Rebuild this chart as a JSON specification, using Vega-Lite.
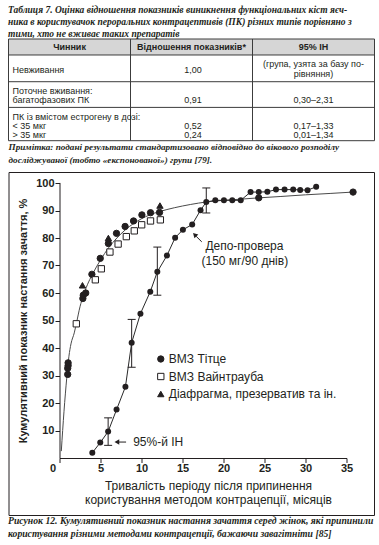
{
  "$schema": "https://vega.github.io/schema/vega-lite/v6.json",
  "padding": {"left": 7.5, "top": 4, "right": 5, "bottom": 5},
  "background": "white",
  "config": {"font": "Liberation Sans", "view": {"stroke": null}, "axis": {"grid": false}},
  "bounds": "flush",
  "spacing": 31,
  "resolve": {"scale": {"shape": "independent", "fill": "independent", "stroke": "independent"}, "legend": {"shape": "independent", "fill": "independent", "stroke": "independent"}},
  "title": {
    "text": ["Рисунок 12. Кумулятивний показник настання зачаття серед жінок, які припинили", "користування різними методами контрацепції, бажаючи завагітніти [85]"],
    "orient": "bottom", "anchor": "start", "frame": "bounds", "fontSize": 9.7, "fontStyle": "italic", "fontWeight": "bold",
    "lineHeight": 13, "offset": 0, "color": "#231f20", "font": "Liberation Sans Narrow"
  },
  "datasets": {
    "thead": [
      {"col": "c1", "ln": 8.06, "t": "Чинник"},
      {"col": "c2", "ln": 8.06, "t": "Відношення показників*"},
      {"col": "c3", "ln": 8.06, "t": "95% ІН"}
    ],
    "tc1": [
      {"col": "c1", "ln": 30.19, "t": "Невживання"},
      {"col": "c1", "ln": 50.84, "t": "Поточне вживання:"},
      {"col": "c1", "ln": 59.69, "t": "багатофазових ПК"},
      {"col": "c1", "ln": 76.4, "t": "ПК із вмістом естрогену в дозі:"},
      {"col": "c1", "ln": 85.25, "t": "< 35 мкг"},
      {"col": "c1", "ln": 94.1, "t": "> 35 мкг"}
    ],
    "tc2": [
      {"col": "c2", "ln": 30.19, "t": "1,00"},
      {"col": "c2", "ln": 59.69, "t": "0,91"},
      {"col": "c2", "ln": 85.25, "t": "0,52"},
      {"col": "c2", "ln": 94.1, "t": "0,24"}
    ],
    "tc3": [
      {"col": "c3", "ln": 24.29, "t": "(група, узята за базу по-"},
      {"col": "c3", "ln": 34.12, "t": "рівняння)"},
      {"col": "c3", "ln": 59.69, "t": "0,30–2,31"},
      {"col": "c3", "ln": 85.25, "t": "0,17–1,33"},
      {"col": "c3", "ln": 94.1, "t": "0,01–1,34"}
    ],
    "curve": [
      {"x": 0.22, "y": 2.5}, {"x": 0.55, "y": 17}, {"x": 0.88, "y": 29}, {"x": 1.15, "y": 37},
      {"x": 1.4, "y": 41.5}, {"x": 1.8, "y": 45.5}, {"x": 2.1, "y": 49.5}, {"x": 2.5, "y": 55},
      {"x": 2.9, "y": 59}, {"x": 3.4, "y": 63}, {"x": 4, "y": 66.7}, {"x": 5, "y": 72},
      {"x": 6, "y": 76.5}, {"x": 7, "y": 80}, {"x": 8, "y": 82.9}, {"x": 9, "y": 85.2},
      {"x": 10, "y": 87}, {"x": 11, "y": 88.4}, {"x": 12.2, "y": 89.6}, {"x": 14, "y": 91},
      {"x": 16, "y": 92.2}, {"x": 17.9, "y": 93.1}, {"x": 20, "y": 93.7}, {"x": 22, "y": 94.1},
      {"x": 24.3, "y": 94.6}, {"x": 27, "y": 95.1}, {"x": 30, "y": 95.7}, {"x": 33, "y": 96.2},
      {"x": 35.8, "y": 96.7}
    ],
    "depo": [
      {"x": 4.0, "y": 1.9}, {"x": 4.97, "y": 5.6}, {"x": 5.93, "y": 9.6}, {"x": 6.96, "y": 17.6},
      {"x": 8.04, "y": 25.9}, {"x": 8.8, "y": 41.9}, {"x": 9.87, "y": 52.5}, {"x": 11.07, "y": 60.5},
      {"x": 11.93, "y": 67.7}, {"x": 13.1, "y": 73.6}, {"x": 14.1, "y": 80.1}, {"x": 15.05, "y": 83.0},
      {"x": 16.18, "y": 84.9}, {"x": 17.2, "y": 90.1}, {"x": 17.9, "y": 93.1}, {"x": 19.0, "y": 93.7},
      {"x": 20.05, "y": 93.7}, {"x": 21.07, "y": 93.7}, {"x": 22.1, "y": 93.7}, {"x": 23.3, "y": 96.7},
      {"x": 24.3, "y": 96.7}, {"x": 25.35, "y": 96.8}, {"x": 26.4, "y": 97.6}, {"x": 27.45, "y": 97.6},
      {"x": 28.5, "y": 97.6}, {"x": 29.35, "y": 97.5}, {"x": 30.25, "y": 97.4}, {"x": 31.3, "y": 98.6}
    ],
    "scatter": [
      {"method": "ВМЗ Тітце", "x": 1.0, "y": 30.4}, {"method": "ВМЗ Тітце", "x": 1.0, "y": 32.6},
      {"method": "ВМЗ Тітце", "x": 1.05, "y": 33.6}, {"method": "ВМЗ Тітце", "x": 1.05, "y": 34.6},
      {"method": "ВМЗ Тітце", "x": 2.85, "y": 58.0}, {"method": "ВМЗ Тітце", "x": 2.9, "y": 59.2},
      {"method": "ВМЗ Тітце", "x": 3.2, "y": 60.0}, {"method": "ВМЗ Тітце", "x": 3.95, "y": 66.8},
      {"method": "ВМЗ Тітце", "x": 4.97, "y": 72.6}, {"method": "ВМЗ Тітце", "x": 5.96, "y": 78.0},
      {"method": "ВМЗ Тітце", "x": 6.95, "y": 81.7}, {"method": "ВМЗ Тітце", "x": 8.0, "y": 84.2},
      {"method": "ВМЗ Тітце", "x": 9.03, "y": 86.2}, {"method": "ВМЗ Тітце", "x": 10.05, "y": 88.4},
      {"method": "ВМЗ Тітце", "x": 11.1, "y": 89.2}, {"method": "ВМЗ Тітце", "x": 12.2, "y": 89.3},
      {"method": "ВМЗ Тітце", "x": 24.3, "y": 94.6}, {"method": "ВМЗ Тітце", "x": 35.8, "y": 96.7},
      {"method": "ВМЗ Вайнтрауба", "x": 2.05, "y": 48.8}, {"method": "ВМЗ Вайнтрауба", "x": 4.37, "y": 64.8},
      {"method": "ВМЗ Вайнтрауба", "x": 5.1, "y": 68.8}, {"method": "ВМЗ Вайнтрауба", "x": 6.15, "y": 74.9},
      {"method": "ВМЗ Вайнтрауба", "x": 7.15, "y": 77.8}, {"method": "ВМЗ Вайнтрауба", "x": 8.15, "y": 80.5},
      {"method": "ВМЗ Вайнтрауба", "x": 9.12, "y": 82.6}, {"method": "ВМЗ Вайнтрауба", "x": 10.02, "y": 84.8},
      {"method": "ВМЗ Вайнтрауба", "x": 11.1, "y": 86.2}, {"method": "ВМЗ Вайнтрауба", "x": 12.3, "y": 86.6},
      {"method": "Діафрагма, презерватив та ін.", "x": 2.8, "y": 62.8},
      {"method": "Діафрагма, презерватив та ін.", "x": 5.96, "y": 80.0},
      {"method": "Діафрагма, презерватив та ін.", "x": 12.25, "y": 91.8}
    ],
    "eb": [
      {"x": 5.93, "lo": 4.6, "hi": 14.6},
      {"x": 8.8, "lo": 33.0, "hi": 50.4},
      {"x": 11.93, "lo": 59.2, "hi": 76.7},
      {"x": 17.9, "lo": 89.1, "hi": 98.2}
    ]
  },
  "vconcat": [
    {
      "width": 366,
      "height": 101.7,
      "title": {
        "text": ["Таблиця 7. Оцінка відношення показників виникнення функціональних кіст яєч-", "ника в користувачок пероральних контрацептивів (ПК) різних типів порівняно з", "тими, хто не вживає таких препаратів"],
        "anchor": "start", "fontSize": 9.5, "fontStyle": "italic", "fontWeight": "bold", "lineHeight": 12.4,
        "baseline": "bottom", "offset": -10.4, "color": "#231f20", "font": "Liberation Sans Narrow"
      },
      "layer": [
        {
          "data": {"values": [{"top": 0, "bottom": 15.73}]},
          "mark": {"type": "rect", "fill": "#d6d6d6"},
          "encoding": {
            "x": {"value": 0}, "x2": {"value": "width"},
            "y": {"field": "top", "type": "quantitative", "scale": {"domain": [0, 100], "reverse": true, "nice": false}, "axis": null},
            "y2": {"field": "bottom"}
          }
        },
        {
          "data": {"values": [{"ln": 0}, {"ln": 15.73}, {"ln": 41.99}, {"ln": 67.26}, {"ln": 100}]},
          "mark": {"type": "rule", "stroke": "#3c3c3c", "strokeWidth": 1},
          "encoding": {"y": {"field": "ln", "type": "quantitative"}}
        },
        {
          "data": {"values": [{"col": "c1"}, {"col": "c2"}, {"col": "c3"}]},
          "mark": {"type": "rule", "stroke": "#3c3c3c", "strokeWidth": 1},
          "encoding": {
            "x": {"field": "col", "type": "nominal", "bandPosition": 0, "scale": {"type": "band", "domain": ["c1", "c2", "c3"], "paddingInner": 0, "paddingOuter": 0}, "axis": null},
            "y": {"datum": 0, "type": "quantitative"}, "y2": {"datum": 100}
          }
        },
        {
          "data": {"values": [{"col": "c3"}]},
          "mark": {"type": "rule", "stroke": "#3c3c3c", "strokeWidth": 1},
          "encoding": {
            "x": {"field": "col", "type": "nominal", "bandPosition": 1},
            "y": {"datum": 0, "type": "quantitative"}, "y2": {"datum": 100}
          }
        },
        {
          "data": {"name": "thead"},
          "mark": {"type": "text", "fontSize": 9, "fontWeight": "bold", "color": "#231f20", "baseline": "middle", "align": "center"},
          "encoding": {"x": {"field": "col", "type": "nominal"}, "y": {"field": "ln", "type": "quantitative"}, "text": {"field": "t"}}
        },
        {
          "data": {"name": "tc1"},
          "mark": {"type": "text", "fontSize": 9, "color": "#231f20", "baseline": "middle", "align": "left", "dx": 4},
          "encoding": {"x": {"field": "col", "type": "nominal", "bandPosition": 0}, "y": {"field": "ln", "type": "quantitative"}, "text": {"field": "t"}}
        },
        {
          "data": {"name": "tc2"},
          "mark": {"type": "text", "fontSize": 9, "color": "#231f20", "baseline": "middle", "align": "center", "dx": 1.5},
          "encoding": {"x": {"field": "col", "type": "nominal"}, "y": {"field": "ln", "type": "quantitative"}, "text": {"field": "t"}}
        },
        {
          "data": {"name": "tc3"},
          "mark": {"type": "text", "fontSize": 9, "color": "#231f20", "baseline": "middle", "align": "center", "dx": 0},
          "encoding": {"x": {"field": "col", "type": "nominal"}, "y": {"field": "ln", "type": "quantitative"}, "text": {"field": "t"}}
        }
      ]
    },
    {
      "width": 365.5,
      "height": 343,
      "view": {"stroke": "#231f20", "strokeWidth": 1},
      "title": {
        "text": ["Примітка: подані результати стандартизовано відповідно до вікового розподілу", "досліджуваної (тобто «експонованої») групи [79]."],
        "anchor": "start", "fontSize": 9.2, "fontStyle": "italic", "fontWeight": "bold", "lineHeight": 12.5,
        "baseline": "bottom", "offset": -2, "color": "#231f20", "font": "Liberation Sans Narrow"
      },
      "layer": [
        {
          "data": {"name": "curve"},
          "mark": {"type": "line", "interpolate": "monotone", "stroke": "#4a4a4a", "strokeWidth": 1},
          "encoding": {
            "x": {
              "field": "x", "type": "quantitative",
              "scale": {"domain": [0, 35], "range": [51, 338], "nice": false, "zero": false},
              "axis": {
                "values": [0, 5, 10, 15, 20, 25, 30, 35], "tickCount": 8, "offset": -57, "tickSize": 4.5, "tickColor": "#231f20",
                "domainColor": "#231f20", "labelFlush": false, "labelPadding": -0.3, "labelFontSize": 11,
                "labelFontWeight": "bold", "labelColor": "#231f20", "labelOverlap": false,
                "labelOffset": {"condition": {"test": "datum.value === 0", "value": -7}, "value": 0},
                "title": ["Тривалість періоду після припинення", "користування методом контрацепції, місяців"],
                "titleFontSize": 12, "titleFontWeight": "normal", "titleColor": "#231f20",
                "titleX": 199.5, "titleY": 22, "titleAlign": "center", "titleBaseline": "top", "titleLineHeight": 14.5
              }
            },
            "y": {
              "field": "y", "type": "quantitative",
              "scale": {"domain": [0, 100.2], "range": [286, 10.45], "nice": false},
              "axis": {
                "values": [10, 20, 30, 40, 50, 60, 70, 80, 90, 100], "tickCount": 10, "offset": -51, "tickSize": 4.5,
                "tickColor": "#231f20", "domainColor": "#231f20", "labelPadding": 1, "labelFontSize": 11,
                "labelFontWeight": "bold", "labelColor": "#231f20", "labelOverlap": false, "labelBound": false, "labelFlush": false,
                "title": "Кумулятивний показник настання зачаття, %", "titleFontSize": 11,
                "titleFontWeight": "bold", "titleColor": "#231f20",
                "titleX": -36, "titleY": 148.5, "titleAngle": -90, "titleAlign": "center", "titleBaseline": "middle"
              }
            }
          }
        },
        {
          "data": {"name": "depo"},
          "mark": {"type": "line", "stroke": "#2a2a2a", "strokeWidth": 1},
          "encoding": {"x": {"field": "x", "type": "quantitative"}, "y": {"field": "y", "type": "quantitative"}}
        },
        {
          "data": {"name": "eb"},
          "mark": {"type": "rule", "stroke": "#231f20", "strokeWidth": 1},
          "encoding": {"x": {"field": "x", "type": "quantitative"}, "y": {"field": "lo", "type": "quantitative"}, "y2": {"field": "hi"}}
        },
        {
          "data": {"name": "eb"},
          "mark": {"type": "tick", "orient": "horizontal", "size": 8, "thickness": 1, "color": "#231f20", "opacity": 1},
          "encoding": {"x": {"field": "x", "type": "quantitative"}, "y": {"field": "lo", "type": "quantitative"}}
        },
        {
          "data": {"name": "eb"},
          "mark": {"type": "tick", "orient": "horizontal", "size": 8, "thickness": 1, "color": "#231f20", "opacity": 1},
          "encoding": {"x": {"field": "x", "type": "quantitative"}, "y": {"field": "hi", "type": "quantitative"}}
        },
        {
          "data": {"name": "depo"},
          "mark": {"type": "circle", "size": 36, "color": "#231f20", "opacity": 1},
          "encoding": {"x": {"field": "x", "type": "quantitative"}, "y": {"field": "y", "type": "quantitative"}}
        },
        {
          "data": {"name": "scatter"},
          "mark": {"type": "point", "filled": true, "size": 40, "strokeWidth": 1, "opacity": 1},
          "encoding": {
            "x": {"field": "x", "type": "quantitative"},
            "y": {"field": "y", "type": "quantitative"},
            "shape": {
              "field": "method", "type": "nominal",
              "scale": {"domain": ["ВМЗ Тітце", "ВМЗ Вайнтрауба", "Діафрагма, презерватив та ін."], "range": ["circle", "square", "triangle-up"]},
              "legend": {"title": null, "orient": "none", "legendX": 146.3, "legendY": 181, "labelFontSize": 12, "labelFont": "Liberation Sans", "labelColor": "#231f20", "labelOffset": 2, "rowPadding": 5.5, "padding": 0, "symbolStrokeWidth": 1, "symbolSize": 40, "labelLimit": 300}
            },
            "fill": {
              "field": "method", "type": "nominal",
              "scale": {"domain": ["ВМЗ Тітце", "ВМЗ Вайнтрауба", "Діафрагма, презерватив та ін."], "range": ["#231f20", "#ffffff", "#231f20"]},
              "legend": {"title": null, "orient": "none", "legendX": 146.3, "legendY": 181, "labelFontSize": 12, "labelFont": "Liberation Sans", "labelColor": "#231f20", "labelOffset": 2, "rowPadding": 5.5, "padding": 0, "symbolStrokeWidth": 1, "symbolSize": 40, "labelLimit": 300}
            },
            "stroke": {
              "field": "method", "type": "nominal",
              "scale": {"domain": ["ВМЗ Тітце", "ВМЗ Вайнтрауба", "Діафрагма, презерватив та ін."], "range": ["#231f20", "#231f20", "#231f20"]},
              "legend": {"title": null, "orient": "none", "legendX": 146.3, "legendY": 181, "labelFontSize": 12, "labelFont": "Liberation Sans", "labelColor": "#231f20", "labelOffset": 2, "rowPadding": 5.5, "padding": 0, "symbolStrokeWidth": 1, "symbolSize": 40, "labelLimit": 300}
            }
          }
        },
        {
          "data": {"values": [{"x": 17.35, "y": 78.6, "x2": 16.67, "y2": 80.6}]},
          "mark": {"type": "rule", "stroke": "#231f20", "strokeWidth": 1},
          "encoding": {"x": {"field": "x", "type": "quantitative"}, "y": {"field": "y", "type": "quantitative"}, "x2": {"field": "x2"}, "y2": {"field": "y2"}}
        },
        {
          "data": {"values": [{"x": 16.49, "y": 81.2}]},
          "mark": {"type": "point", "shape": "triangle-up", "angle": -45, "size": 30, "filled": true, "color": "#231f20", "opacity": 1},
          "encoding": {"x": {"field": "x", "type": "quantitative"}, "y": {"field": "y", "type": "quantitative"}}
        },
        {
          "data": {"values": [{"x": 7.1, "y": 5.8, "x2": 8.12, "y2": 5.8}]},
          "mark": {"type": "rule", "stroke": "#231f20", "strokeWidth": 1},
          "encoding": {"x": {"field": "x", "type": "quantitative"}, "y": {"field": "y", "type": "quantitative"}, "x2": {"field": "x2"}, "y2": {"field": "y2"}}
        },
        {
          "data": {"values": [{"x": 7.0, "y": 5.8}]},
          "mark": {"type": "point", "shape": "triangle-left", "size": 30, "filled": true, "color": "#231f20", "opacity": 1},
          "encoding": {"x": {"field": "x", "type": "quantitative"}, "y": {"field": "y", "type": "quantitative"}}
        },
        {
          "data": {"values": [{"x": 22.55, "y": 77.0, "t": "Депо-провера"}, {"x": 22.6, "y": 71.8, "t": "(150 мг/90 днів)"}]},
          "mark": {"type": "text", "fontSize": 12, "color": "#231f20", "align": "center", "baseline": "middle"},
          "encoding": {"x": {"field": "x", "type": "quantitative"}, "y": {"field": "y", "type": "quantitative"}, "text": {"field": "t"}}
        },
        {
          "data": {"values": [{"x": 8.98, "y": 5.8, "t": "95%-й ІН"}]},
          "mark": {"type": "text", "fontSize": 12, "color": "#231f20", "align": "left", "baseline": "middle"},
          "encoding": {"x": {"field": "x", "type": "quantitative"}, "y": {"field": "y", "type": "quantitative"}, "text": {"field": "t"}}
        }
      ]
    }
  ]
}
